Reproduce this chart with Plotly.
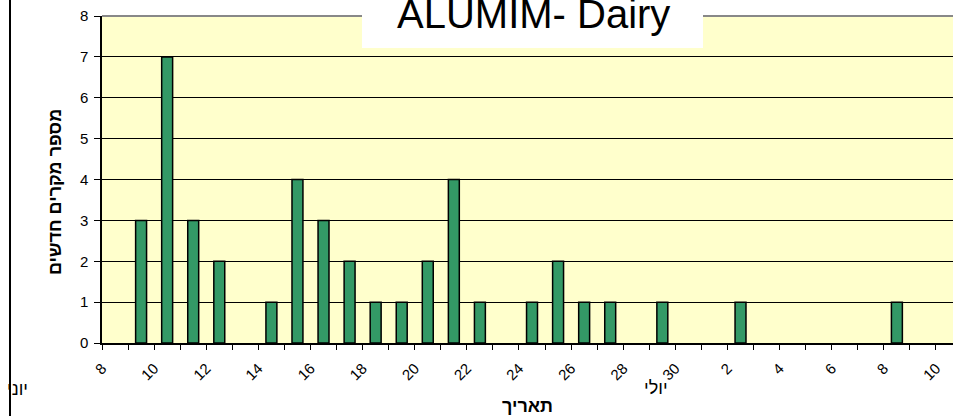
import plotly.graph_objects as go

# new cases per day (June - July)
dates = [
    "2008-06-09", "2008-06-10", "2008-06-11", "2008-06-12", "2008-06-14",
    "2008-06-15", "2008-06-16", "2008-06-17", "2008-06-18", "2008-06-19",
    "2008-06-20", "2008-06-21", "2008-06-22", "2008-06-24", "2008-06-25",
    "2008-06-26", "2008-06-27", "2008-06-29", "2008-07-02", "2008-07-08",
]
new_cases = [3, 7, 3, 2, 1, 4, 3, 2, 1, 1, 2, 4, 1, 1, 2, 1, 1, 1, 1, 1]

title_text = "ALUMIM- Dairy"
y_title = "מספר מקרים חדשים"
x_title = "תאריך"
june_lbl = "יוני"
july_lbl = "יולי"

DAY = 86400000
bar_green = "#339966"
plot_yellow = "#FFFFCC"

W, H = 953, 416
L, R, T, B = 102, 0, 16, 73
pw = W - L - R
ph = H - T - B


def px_x(x):
    return (x - L) / pw


def px_y(y):
    return (H - B - y) / ph


fig = go.Figure(go.Bar(
    x=dates,
    y=new_cases,
    xperiod=DAY,
    xperiodalignment="middle",
    width=0.42 * DAY,
    marker=dict(color=bar_green, line=dict(color="black", width=1.5)),
    hoverinfo="x+y",
))

fig.update_layout(
    width=W, height=H,
    margin=dict(l=L, r=R, t=T, b=B),
    paper_bgcolor="white",
    plot_bgcolor=plot_yellow,
    showlegend=False,
    font=dict(family="Liberation Sans, Arial", color="black"),
    xaxis=dict(
        type="date",
        range=["2008-06-08", "2008-07-10 15:40"],
        tick0="2008-06-08", dtick=2 * DAY,
        tickformat="%-d",
        tickangle=-45,
        ticks="outside", ticklen=5, tickcolor="black",
        ticklabelstandoff=4,
        minor=dict(dtick=DAY, ticks="outside", ticklen=5, tickcolor="black"),
        showgrid=False,
        showline=True, linecolor="black", linewidth=1.5,
        tickfont=dict(size=15),
        title=dict(text=f"<b>{x_title}</b>", font=dict(size=18), standoff=18),
    ),
    yaxis=dict(
        range=[0, 8], dtick=1,
        ticks="outside", ticklen=6, tickcolor="black",
        ticklabelstandoff=3,
        showgrid=True, gridcolor="black", gridwidth=1,
        showline=True, linecolor="black", linewidth=1.5,
        zeroline=False,
        tickfont=dict(size=15),
    ),
    shapes=[
        # grey plot-area border on top
        dict(type="line", xref="paper", yref="paper", x0=0, x1=1, y0=1, y1=1,
             line=dict(color="#888888", width=2), layer="above"),
        # white title box
        dict(type="rect", xref="paper", yref="paper",
             x0=px_x(362), x1=px_x(703), y0=px_y(48), y1=px_y(-5),
             fillcolor="white", line=dict(width=0), layer="above"),
        # chart border at left
        dict(type="line", xref="paper", yref="paper",
             x0=px_x(10), x1=px_x(10), y0=px_y(0), y1=px_y(H),
             line=dict(color="black", width=2)),
    ],
    annotations=[
        dict(text=title_text, xref="paper", yref="paper",
             x=px_x(533), y=px_y(27), xanchor="center", yanchor="bottom",
             yshift=-11, showarrow=False, font=dict(size=40)),
        dict(text=f"<b>{y_title}</b>", xref="paper", yref="paper",
             x=px_x(55), y=px_y(192), xanchor="center", yanchor="middle",
             textangle=-90, showarrow=False, font=dict(size=18)),
        dict(text=june_lbl, xref="paper", yref="paper",
             x=px_x(17), y=px_y(389), xanchor="center", yanchor="middle",
             showarrow=False, font=dict(size=18)),
        dict(text=july_lbl, xref="paper", yref="paper",
             x=px_x(656), y=px_y(388), xanchor="center", yanchor="middle",
             showarrow=False, font=dict(size=18)),
    ],
)

fig.write_html("out.html", config=dict(displayModeBar=False),
               post_script="document.body.style.margin='0';")
